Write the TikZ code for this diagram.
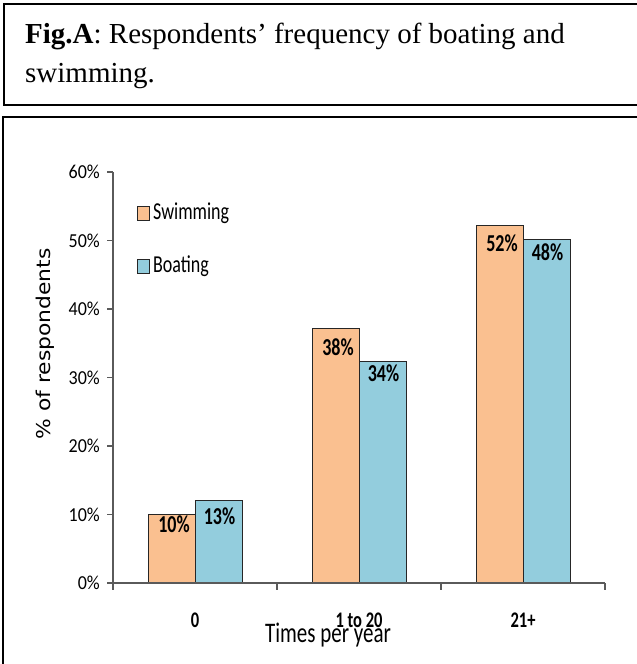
\documentclass[tikz,border=0pt]{standalone}
\usepackage{fontspec}
\setmainfont{Carlito}
\newfontfamily\titlefont{Liberation Serif}
\newfontfamily\axisfont{DejaVu Sans}
\usetikzlibrary{positioning}

\definecolor{swimfill}{HTML}{FAC090}
\definecolor{boatfill}{HTML}{93CDDD}
\definecolor{axisgray}{HTML}{5A5A5A}

% chart texts are stretched upward in the original
\newcommand{\tallbox}[1]{\scalebox{1}[1.35]{#1}}

\tikzset{
  framebox/.style={draw=black,line width=2pt},
  barbox/.style={draw=black!85,line width=0.8pt},
  axisline/.style={draw=axisgray,line width=1.2pt},
  ticklabel/.style={font=\fontsize{18}{18}\selectfont,anchor=east,inner sep=0pt},
  barlabel/.style={font=\bfseries\fontsize{18}{18}\selectfont,inner sep=0pt},
  catlabel/.style={font=\bfseries\fontsize{16.5}{16.5}\selectfont,inner sep=0pt},
  legendtext/.style={font=\fontsize{18}{18}\selectfont,anchor=west,inner sep=0pt}
}

\begin{document}
\begin{tikzpicture}[x=1pt,y=-1pt]
\useasboundingbox (0,0) rectangle (637,664);

% frames
\draw[framebox] (4,4) rectangle (645,105);
\draw[framebox] (3,117) rectangle (645,670);

% caption
\node[anchor=base west,inner sep=0pt,font=\titlefont\fontsize{29}{29}\selectfont]
  (title1) at (25,43) {\textbf{Fig.A}: Respondents’ frequency of boating and};
\node[anchor=base west,inner sep=0pt,font=\titlefont\fontsize{29}{29}\selectfont]
  (title2) at (25,82) {swimming.};

% chart, y in percent
\begin{scope}[y=6.85pt,shift={(113pt,-583pt)}]
\foreach \i/\s/\b/\sl/\bl/\so/\bo in {0/10/12.1/10/13/10/16,
                                   1/37.2/32.3/38/34/19/11,
                                   2/52.2/50.2/52/48/18/13.5}{
  \pgfmathsetmacro{\c}{82+164*\i}
  \draw[barbox,fill=swimfill] (\c-47,0) rectangle (\c,\s);
  \draw[barbox,fill=boatfill] (\c,0) rectangle (\c+47,\b);
  \node[barlabel] (swimlab\i) at ([yshift=-\so pt]\c-21,\s) {\tallbox{\sl\%}};
  \node[barlabel] (boatlab\i) at ([yshift=-\bo pt]\c+24.5,\b) {\tallbox{\bl\%}};
}
% axes
\draw[axisline] (0,60) -- (0,0) -- (492,0);
\foreach \v in {0,10,...,60}{
  \draw[axisline] (-6,\v) -- (0,\v);
  \node[ticklabel] (tick\v) at (-13,\v) {\scalebox{1}[1.1]{\v\%}};
}
\foreach \t in {0,164,328,492}
  \draw[axisline] (\t,0) -- ([yshift=-7pt]\t,0);
\node[catlabel] (cat0) at ([yshift=-37pt]82,0) {\tallbox{0}};
\node[catlabel] (cat1) at ([yshift=-37pt]246,0) {\tallbox{1 to 20}};
\node[catlabel] (cat2) at ([yshift=-37pt]410,0) {\tallbox{21+}};
\end{scope}

\node[font=\fontsize{21}{21}\selectfont,inner sep=0pt] (xtitle) at (328,635) {\tallbox{Times per year}};
\node[font=\axisfont\fontsize{19}{19}\selectfont,rotate=90,inner sep=0pt]
  (ytitle) at (45,344) {\scalebox{1.15}[1]{\% of respondents}};

% legend
\draw[barbox,fill=swimfill] (137,206) rectangle (149,220);
\node[legendtext] (swimkey) at (153,213) {\tallbox{Swimming}};
\draw[barbox,fill=boatfill] (137,259) rectangle (149,273);
\node[legendtext] (boatkey) at (153,266) {\tallbox{Boating}};
\end{tikzpicture}
\end{document}
